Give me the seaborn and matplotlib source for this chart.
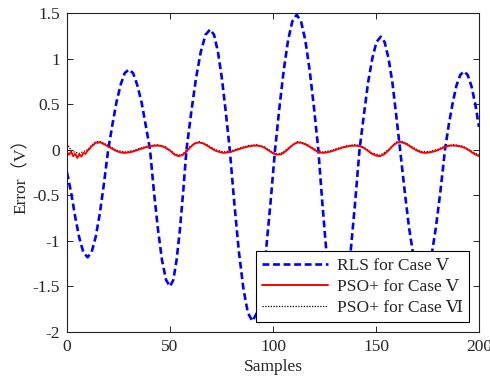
import matplotlib
matplotlib.use("Agg")
import matplotlib.pyplot as plt
import seaborn as sns
import pandas as pd

# ---------------- data ----------------
rls_x = [0, 2, 4, 6, 8, 10,
         12, 14, 16, 18, 20,
         22, 24, 26, 28, 30,
         32.1, 34.1, 36.2, 38.2, 40.3,
         42.2, 44.2, 46.1, 48.1, 50,
         51.6, 53.2, 54.8, 56.4, 58,
         60.3, 62.6, 64.9, 67.2, 69.5,
         71.4, 73.3, 75.2, 77.1, 79,
         81.2, 83.4, 85.6, 87.8, 90,
         92.2, 94.4, 96.6, 98.8, 101,
         103.1, 105.2, 107.3, 109.4, 111.5,
         113.6, 115.7, 117.8, 119.9, 122,
         123.9, 125.8, 127.7, 129.6, 131.5,
         133.6, 135.7, 137.8, 139.9, 142,
         144.1, 146.1, 148.2, 150.2, 152.3,
         154.2, 156.1, 158.0, 159.8, 161.7,
         163.9, 166.0, 168.2, 170.3, 172.5,
         174.7, 176.9, 179.1, 181.3, 183.5,
         185.3, 187.2, 189.0, 190.9, 192.7,
         194.5, 196.3, 198.2, 200]
rls_y = [-0.25, -0.47, -0.74, -0.97, -1.13, -1.18,
         -1.12, -0.95, -0.69, -0.36, 0.0,
         0.27, 0.52, 0.71, 0.84, 0.88,
         0.84, 0.71, 0.52, 0.27, 0.0,
         -0.46, -0.88, -1.21, -1.43, -1.50,
         -1.43, -1.21, -0.88, -0.46, 0.0,
         0.41, 0.78, 1.07, 1.26, 1.32,
         1.26, 1.07, 0.78, 0.41, 0.0,
         -0.58, -1.11, -1.52, -1.79, -1.88,
         -1.79, -1.52, -1.11, -0.58, 0.0,
         0.46, 0.87, 1.20, 1.41, 1.48,
         1.41, 1.20, 0.87, 0.46, 0.0,
         -0.57, -1.09, -1.50, -1.76, -1.85,
         -1.76, -1.50, -1.09, -0.57, 0.0,
         0.38, 0.73, 1.00, 1.18, 1.24,
         1.18, 1.00, 0.73, 0.38, 0.0,
         -0.45, -0.85, -1.17, -1.38, -1.45,
         -1.38, -1.17, -0.85, -0.45, 0.0,
         0.27, 0.51, 0.70, 0.82, 0.86,
         0.82, 0.70, 0.50, 0.25]

pso5_x = [0, 1, 2, 3, 4, 5, 6, 7, 8, 9, 10, 11, 12, 13, 14, 15, 16, 17, 18,
          20, 22, 24, 26, 28, 30, 32, 34, 36, 38, 40, 42, 44, 46, 48, 50,
          52, 54, 56, 58, 60, 62, 64, 66, 68, 70, 72, 74, 76, 78, 80, 82,
          84, 86, 88, 90, 92, 94, 96, 98, 100, 102, 104, 106, 108, 110, 112,
          114, 116, 118, 120, 122, 124, 126, 128, 130, 132, 134, 136, 138,
          140, 142, 144, 146, 148, 150, 152, 154, 156, 158, 160, 162, 164,
          166, 168, 170, 172, 174, 176, 178, 180, 182, 184, 186, 188, 190,
          192, 194, 196, 198, 200]
pso5_y = [-0.03, -0.055, -0.02, -0.07, -0.045, -0.09, -0.05, -0.075, -0.035,
          -0.045, -0.01, 0.01, 0.04, 0.055, 0.08, 0.075, 0.085, 0.07, 0.06,
          0.035, 0.01, -0.015, -0.03, -0.035, -0.03, -0.02, -0.005, 0.01,
          0.025, 0.035, 0.043, 0.045, 0.04, 0.02, -0.01,
          -0.05, -0.07, -0.06, -0.02, 0.03, 0.07, 0.08, 0.07, 0.045, 0.015,
          -0.01, -0.025, -0.035, -0.03, -0.02, -0.005,
          0.01, 0.025, 0.035, 0.043, 0.045, 0.04, 0.02, -0.01, -0.04, -0.055,
          -0.05, -0.02, 0.02, 0.06, 0.08,
          0.075, 0.055, 0.03, 0.0, -0.025, -0.035, -0.03, -0.02, -0.005, 0.01,
          0.025, 0.035, 0.043,
          0.045, 0.04, 0.02, -0.01, -0.045, -0.065, -0.07, -0.05, -0.01, 0.04,
          0.075, 0.085, 0.07,
          0.045, 0.015, -0.01, -0.03, -0.035, -0.03, -0.02, -0.005, 0.015,
          0.035, 0.045, 0.045, 0.04,
          0.03, 0.01, -0.02, -0.05, -0.07]

pso6_x = [0, 2, 4, 6, 8, 10, 12, 14, 16, 18, 20, 24, 28, 32, 36, 40, 44, 48,
          52, 54, 56, 60, 64, 68, 72, 76, 80, 84, 88, 92, 96, 100, 102, 104,
          108, 112, 116, 120, 124, 128, 132, 136, 140, 144, 148, 152, 156,
          160, 162, 164, 168, 172, 176, 180, 184, 188, 192, 196, 200]
pso6_y = [0.07, -0.01, -0.03, -0.04, -0.02, 0.0, 0.05, 0.085, 0.09, 0.07,
          0.045, -0.005, -0.025, -0.01, 0.02, 0.045, 0.055, 0.03,
          -0.04, -0.06, -0.05, 0.04, 0.09, 0.055, 0.0, -0.025, -0.01, 0.02,
          0.045, 0.055, 0.03, -0.03, -0.045, -0.04,
          0.03, 0.09, 0.065, 0.01, -0.025, -0.01, 0.02, 0.045, 0.055, 0.03,
          -0.035, -0.06, 0.0,
          0.085, 0.095, 0.08, 0.025, -0.02, -0.02, 0.005, 0.045, 0.055, 0.04,
          -0.01, -0.06]

labels = ["RLS for Case Ⅴ", "PSO+ for Case Ⅴ", "PSO+ for Case Ⅵ"]
x_ticks = [0, 50, 100, 150, 200]
y_ticks = [-2, -1.5, -1, -0.5, 0, 0.5, 1, 1.5]
y_ticklabels = ["-2", "-1.5", "-1", "-0.5", "0", "0.5", "1", "1.5"]
x_label = "Samples"
y_label = "Error（V）"

# ---------------- style ----------------
sns.set_theme(style="white")
plt.rcParams["font.family"] = ["Liberation Serif", "DejaVu Serif", "Noto Sans CJK SC"]

df_rls = pd.DataFrame({"x": rls_x, "y": rls_y})
df_p5 = pd.DataFrame({"x": pso5_x, "y": pso5_y})
df_p6 = pd.DataFrame({"x": pso6_x, "y": pso6_y})

fig = plt.figure(figsize=(4.9, 3.81), dpi=100)
ax = fig.add_axes([67 / 490, 1 - 332 / 381, (479 - 67) / 490, (332 - 13) / 381])

sns.lineplot(data=df_rls, x="x", y="y", ax=ax, color="#0000ff", lw=1.9,
             linestyle=(0, (2.6, 1.4)), estimator=None, sort=False)
sns.lineplot(data=df_p6, x="x", y="y", ax=ax, color="black", lw=0.9,
             linestyle=(0, (1, 1.2)), estimator=None, sort=False)
sns.lineplot(data=df_p5, x="x", y="y", ax=ax, color="#ff0000", lw=1.4,
             estimator=None, sort=False)

lines = ax.get_lines()
handles = [lines[0], lines[2], lines[1]]
leg = ax.legend(handles, labels, loc="lower right", fontsize=12.5,
                frameon=True, fancybox=False, edgecolor="black",
                framealpha=1, borderaxespad=0.55, handlelength=3.8,
                handletextpad=0.55, labelspacing=0.3, borderpad=0.35)
leg.get_frame().set_linewidth(0.8)

ax.set_xlim(0, 200)
ax.set_ylim(-2, 1.5)
ax.set_xticks(x_ticks)
ax.set_xticklabels([str(t) for t in x_ticks])
ax.set_yticks(y_ticks)
ax.set_yticklabels(y_ticklabels)
ax.set_xlabel(x_label, fontsize=12.5, labelpad=3)
ax.set_ylabel(y_label, fontsize=12.5, labelpad=2)
ax.tick_params(axis="both", which="both", direction="in", length=4,
               width=0.6, labelsize=12.5, top=True, right=True,
               bottom=True, left=True, color="black", pad=5)
for s in ax.spines.values():
    s.set_visible(True)
    s.set_color("#222222")
    s.set_linewidth(0.8)

fig.savefig("out.png", dpi=100, facecolor="white")
